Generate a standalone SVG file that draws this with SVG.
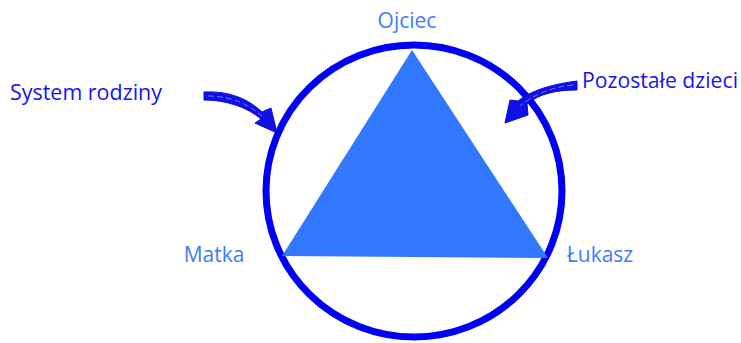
<svg xmlns="http://www.w3.org/2000/svg" width="741" height="343" viewBox="0 0 741 343">
  <style>
    .role { font-family: "Open Sans", "Noto Sans", "Liberation Sans", sans-serif; font-size: 21px; fill: #3d7dff; }
    .note { font-family: "Open Sans", "Noto Sans", "Liberation Sans", sans-serif; font-size: 21px; fill: #1414f0; }
    .arrow { fill: #0f0fe8; stroke: #0a0ad0; stroke-width: 1; stroke-linejoin: round; }
    .scribble { fill: none; stroke: #8a8aff; stroke-width: 0.8; stroke-dasharray: 6 3; }
  </style>
  <rect width="741" height="343" fill="#ffffff"/>

  <!-- family system circle -->
  <g id="family-circle">
    <ellipse cx="414" cy="191" rx="148" ry="146" fill="none" stroke="#0000f5" stroke-width="7"/>
  </g>

  <!-- triangle of parents and child -->
  <g id="triangle">
    <polygon points="412,50 282,256 548,258" fill="#3278ff"/>
  </g>

  <g id="node-ojciec">
    <text class="role" x="407" y="28" text-anchor="middle">Ojciec</text>
  </g>
  <g id="node-matka">
    <text class="role" x="214" y="262" text-anchor="middle">Matka</text>
  </g>
  <g id="node-lukasz">
    <text class="role" x="600" y="262" text-anchor="middle">Łukasz</text>
  </g>
  <g id="label-system">
    <text class="note" x="10" y="100" textLength="152" lengthAdjust="spacingAndGlyphs">System rodziny</text>
  </g>
  <g id="label-dzieci">
    <text class="note" x="582" y="88" textLength="156" lengthAdjust="spacingAndGlyphs">Pozostałe dzieci</text>
  </g>

  <!-- hand-drawn pointer arrows -->
  <g id="connectors">
    <path class="arrow" d="M204,92 C225,91 245,96 262,112 L271,108 L277,133 L255,123 L261,119 C247,107 226,100 204,100 Z"/>
    <path class="scribble" d="M208,96 C228,96 246,102 262,116"/>
    <path class="arrow" d="M577,81 L577,90 C558,90 540,93 527,104 L528,115 L505,123 L510,100 L518,101 C533,89 555,84 577,81 Z"/>
    <path class="scribble" d="M573,85 C553,87 536,93 520,106"/>
  </g>
</svg>
